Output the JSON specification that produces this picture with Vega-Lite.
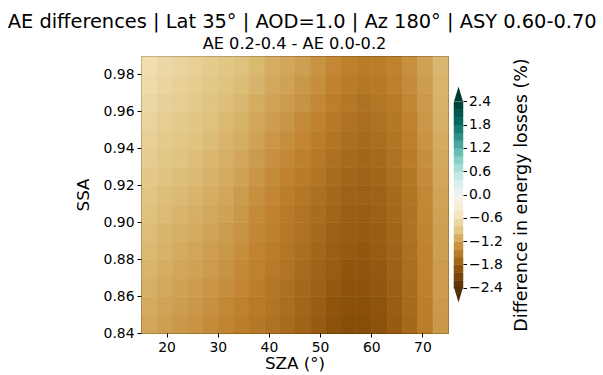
{
  "$schema": "https://vega.github.io/schema/vega-lite/v6.json",
  "background": "white",
  "padding": {"left": 7, "top": 11, "right": 5, "bottom": 5},
  "title": {"text": "AE differences | Lat 35° | AOD=1.0 | Az 180° | ASY 0.60-0.70", "font": "DejaVu Sans", "fontSize": 19.4, "fontWeight": "normal", "color": "#000", "anchor": "middle", "frame": "bounds", "offset": 3},
  "datasets": {
    "field": [
      {"ssa":0.84,"sza":15,"v":-1.17},{"ssa":0.84,"sza":18,"v":-1.22},{"ssa":0.84,"sza":21,"v":-1.27},{"ssa":0.84,"sza":24,"v":-1.31},{"ssa":0.84,"sza":27,"v":-1.36},{"ssa":0.84,"sza":30,"v":-1.41},{"ssa":0.84,"sza":33,"v":-1.47},{"ssa":0.84,"sza":36,"v":-1.53},{"ssa":0.84,"sza":39,"v":-1.59},{"ssa":0.84,"sza":42,"v":-1.65},{"ssa":0.84,"sza":45,"v":-1.73},{"ssa":0.84,"sza":48,"v":-1.82},{"ssa":0.84,"sza":51,"v":-1.91},{"ssa":0.84,"sza":54,"v":-1.96},{"ssa":0.84,"sza":57,"v":-1.97},{"ssa":0.84,"sza":60,"v":-1.91},{"ssa":0.84,"sza":63,"v":-1.82},{"ssa":0.84,"sza":66,"v":-1.68},{"ssa":0.84,"sza":69,"v":-1.48},{"ssa":0.84,"sza":72,"v":-1.27},
      {"ssa":0.85,"sza":15,"v":-1.13},{"ssa":0.85,"sza":18,"v":-1.19},{"ssa":0.85,"sza":21,"v":-1.23},{"ssa":0.85,"sza":24,"v":-1.27},{"ssa":0.85,"sza":27,"v":-1.32},{"ssa":0.85,"sza":30,"v":-1.38},{"ssa":0.85,"sza":33,"v":-1.44},{"ssa":0.85,"sza":36,"v":-1.50},{"ssa":0.85,"sza":39,"v":-1.56},{"ssa":0.85,"sza":42,"v":-1.62},{"ssa":0.85,"sza":45,"v":-1.70},{"ssa":0.85,"sza":48,"v":-1.79},{"ssa":0.85,"sza":51,"v":-1.88},{"ssa":0.85,"sza":54,"v":-1.93},{"ssa":0.85,"sza":57,"v":-1.94},{"ssa":0.85,"sza":60,"v":-1.89},{"ssa":0.85,"sza":63,"v":-1.80},{"ssa":0.85,"sza":66,"v":-1.66},{"ssa":0.85,"sza":69,"v":-1.47},{"ssa":0.85,"sza":72,"v":-1.26},
      {"ssa":0.86,"sza":15,"v":-1.10},{"ssa":0.86,"sza":18,"v":-1.15},{"ssa":0.86,"sza":21,"v":-1.20},{"ssa":0.86,"sza":24,"v":-1.24},{"ssa":0.86,"sza":27,"v":-1.29},{"ssa":0.86,"sza":30,"v":-1.34},{"ssa":0.86,"sza":33,"v":-1.40},{"ssa":0.86,"sza":36,"v":-1.47},{"ssa":0.86,"sza":39,"v":-1.54},{"ssa":0.86,"sza":42,"v":-1.60},{"ssa":0.86,"sza":45,"v":-1.68},{"ssa":0.86,"sza":48,"v":-1.76},{"ssa":0.86,"sza":51,"v":-1.84},{"ssa":0.86,"sza":54,"v":-1.90},{"ssa":0.86,"sza":57,"v":-1.91},{"ssa":0.86,"sza":60,"v":-1.86},{"ssa":0.86,"sza":63,"v":-1.77},{"ssa":0.86,"sza":66,"v":-1.65},{"ssa":0.86,"sza":69,"v":-1.45},{"ssa":0.86,"sza":72,"v":-1.25},
      {"ssa":0.87,"sza":15,"v":-1.06},{"ssa":0.87,"sza":18,"v":-1.12},{"ssa":0.87,"sza":21,"v":-1.16},{"ssa":0.87,"sza":24,"v":-1.20},{"ssa":0.87,"sza":27,"v":-1.25},{"ssa":0.87,"sza":30,"v":-1.31},{"ssa":0.87,"sza":33,"v":-1.37},{"ssa":0.87,"sza":36,"v":-1.44},{"ssa":0.87,"sza":39,"v":-1.51},{"ssa":0.87,"sza":42,"v":-1.57},{"ssa":0.87,"sza":45,"v":-1.65},{"ssa":0.87,"sza":48,"v":-1.73},{"ssa":0.87,"sza":51,"v":-1.81},{"ssa":0.87,"sza":54,"v":-1.87},{"ssa":0.87,"sza":57,"v":-1.88},{"ssa":0.87,"sza":60,"v":-1.84},{"ssa":0.87,"sza":63,"v":-1.75},{"ssa":0.87,"sza":66,"v":-1.63},{"ssa":0.87,"sza":69,"v":-1.44},{"ssa":0.87,"sza":72,"v":-1.24},
      {"ssa":0.88,"sza":15,"v":-1.03},{"ssa":0.88,"sza":18,"v":-1.08},{"ssa":0.88,"sza":21,"v":-1.13},{"ssa":0.88,"sza":24,"v":-1.17},{"ssa":0.88,"sza":27,"v":-1.22},{"ssa":0.88,"sza":30,"v":-1.27},{"ssa":0.88,"sza":33,"v":-1.34},{"ssa":0.88,"sza":36,"v":-1.42},{"ssa":0.88,"sza":39,"v":-1.48},{"ssa":0.88,"sza":42,"v":-1.55},{"ssa":0.88,"sza":45,"v":-1.62},{"ssa":0.88,"sza":48,"v":-1.70},{"ssa":0.88,"sza":51,"v":-1.78},{"ssa":0.88,"sza":54,"v":-1.83},{"ssa":0.88,"sza":57,"v":-1.85},{"ssa":0.88,"sza":60,"v":-1.81},{"ssa":0.88,"sza":63,"v":-1.73},{"ssa":0.88,"sza":66,"v":-1.61},{"ssa":0.88,"sza":69,"v":-1.43},{"ssa":0.88,"sza":72,"v":-1.22},
      {"ssa":0.89,"sza":15,"v":-0.99},{"ssa":0.89,"sza":18,"v":-1.05},{"ssa":0.89,"sza":21,"v":-1.09},{"ssa":0.89,"sza":24,"v":-1.13},{"ssa":0.89,"sza":27,"v":-1.18},{"ssa":0.89,"sza":30,"v":-1.24},{"ssa":0.89,"sza":33,"v":-1.31},{"ssa":0.89,"sza":36,"v":-1.39},{"ssa":0.89,"sza":39,"v":-1.45},{"ssa":0.89,"sza":42,"v":-1.52},{"ssa":0.89,"sza":45,"v":-1.59},{"ssa":0.89,"sza":48,"v":-1.67},{"ssa":0.89,"sza":51,"v":-1.75},{"ssa":0.89,"sza":54,"v":-1.80},{"ssa":0.89,"sza":57,"v":-1.82},{"ssa":0.89,"sza":60,"v":-1.79},{"ssa":0.89,"sza":63,"v":-1.71},{"ssa":0.89,"sza":66,"v":-1.59},{"ssa":0.89,"sza":69,"v":-1.42},{"ssa":0.89,"sza":72,"v":-1.21},
      {"ssa":0.90,"sza":15,"v":-0.96},{"ssa":0.90,"sza":18,"v":-1.01},{"ssa":0.90,"sza":21,"v":-1.06},{"ssa":0.90,"sza":24,"v":-1.10},{"ssa":0.90,"sza":27,"v":-1.15},{"ssa":0.90,"sza":30,"v":-1.20},{"ssa":0.90,"sza":33,"v":-1.27},{"ssa":0.90,"sza":36,"v":-1.36},{"ssa":0.90,"sza":39,"v":-1.43},{"ssa":0.90,"sza":42,"v":-1.50},{"ssa":0.90,"sza":45,"v":-1.57},{"ssa":0.90,"sza":48,"v":-1.64},{"ssa":0.90,"sza":51,"v":-1.71},{"ssa":0.90,"sza":54,"v":-1.77},{"ssa":0.90,"sza":57,"v":-1.79},{"ssa":0.90,"sza":60,"v":-1.76},{"ssa":0.90,"sza":63,"v":-1.68},{"ssa":0.90,"sza":66,"v":-1.58},{"ssa":0.90,"sza":69,"v":-1.40},{"ssa":0.90,"sza":72,"v":-1.20},
      {"ssa":0.91,"sza":15,"v":-0.92},{"ssa":0.91,"sza":18,"v":-0.98},{"ssa":0.91,"sza":21,"v":-1.02},{"ssa":0.91,"sza":24,"v":-1.06},{"ssa":0.91,"sza":27,"v":-1.11},{"ssa":0.91,"sza":30,"v":-1.17},{"ssa":0.91,"sza":33,"v":-1.24},{"ssa":0.91,"sza":36,"v":-1.33},{"ssa":0.91,"sza":39,"v":-1.40},{"ssa":0.91,"sza":42,"v":-1.47},{"ssa":0.91,"sza":45,"v":-1.54},{"ssa":0.91,"sza":48,"v":-1.61},{"ssa":0.91,"sza":51,"v":-1.68},{"ssa":0.91,"sza":54,"v":-1.74},{"ssa":0.91,"sza":57,"v":-1.76},{"ssa":0.91,"sza":60,"v":-1.74},{"ssa":0.91,"sza":63,"v":-1.66},{"ssa":0.91,"sza":66,"v":-1.56},{"ssa":0.91,"sza":69,"v":-1.39},{"ssa":0.91,"sza":72,"v":-1.19},
      {"ssa":0.92,"sza":15,"v":-0.88},{"ssa":0.92,"sza":18,"v":-0.94},{"ssa":0.92,"sza":21,"v":-0.98},{"ssa":0.92,"sza":24,"v":-1.02},{"ssa":0.92,"sza":27,"v":-1.07},{"ssa":0.92,"sza":30,"v":-1.13},{"ssa":0.92,"sza":33,"v":-1.20},{"ssa":0.92,"sza":36,"v":-1.29},{"ssa":0.92,"sza":39,"v":-1.36},{"ssa":0.92,"sza":42,"v":-1.43},{"ssa":0.92,"sza":45,"v":-1.49},{"ssa":0.92,"sza":48,"v":-1.57},{"ssa":0.92,"sza":51,"v":-1.64},{"ssa":0.92,"sza":54,"v":-1.70},{"ssa":0.92,"sza":57,"v":-1.73},{"ssa":0.92,"sza":60,"v":-1.70},{"ssa":0.92,"sza":63,"v":-1.63},{"ssa":0.92,"sza":66,"v":-1.53},{"ssa":0.92,"sza":69,"v":-1.36},{"ssa":0.92,"sza":72,"v":-1.17},
      {"ssa":0.93,"sza":15,"v":-0.83},{"ssa":0.93,"sza":18,"v":-0.89},{"ssa":0.93,"sza":21,"v":-0.94},{"ssa":0.93,"sza":24,"v":-0.98},{"ssa":0.93,"sza":27,"v":-1.04},{"ssa":0.93,"sza":30,"v":-1.10},{"ssa":0.93,"sza":33,"v":-1.16},{"ssa":0.93,"sza":36,"v":-1.24},{"ssa":0.93,"sza":39,"v":-1.32},{"ssa":0.93,"sza":42,"v":-1.38},{"ssa":0.93,"sza":45,"v":-1.45},{"ssa":0.93,"sza":48,"v":-1.52},{"ssa":0.93,"sza":51,"v":-1.60},{"ssa":0.93,"sza":54,"v":-1.66},{"ssa":0.93,"sza":57,"v":-1.70},{"ssa":0.93,"sza":60,"v":-1.67},{"ssa":0.93,"sza":63,"v":-1.59},{"ssa":0.93,"sza":66,"v":-1.49},{"ssa":0.93,"sza":69,"v":-1.34},{"ssa":0.93,"sza":72,"v":-1.15},
      {"ssa":0.94,"sza":15,"v":-0.79},{"ssa":0.94,"sza":18,"v":-0.85},{"ssa":0.94,"sza":21,"v":-0.90},{"ssa":0.94,"sza":24,"v":-0.94},{"ssa":0.94,"sza":27,"v":-1.00},{"ssa":0.94,"sza":30,"v":-1.06},{"ssa":0.94,"sza":33,"v":-1.12},{"ssa":0.94,"sza":36,"v":-1.20},{"ssa":0.94,"sza":39,"v":-1.28},{"ssa":0.94,"sza":42,"v":-1.34},{"ssa":0.94,"sza":45,"v":-1.40},{"ssa":0.94,"sza":48,"v":-1.48},{"ssa":0.94,"sza":51,"v":-1.56},{"ssa":0.94,"sza":54,"v":-1.62},{"ssa":0.94,"sza":57,"v":-1.66},{"ssa":0.94,"sza":60,"v":-1.63},{"ssa":0.94,"sza":63,"v":-1.56},{"ssa":0.94,"sza":66,"v":-1.46},{"ssa":0.94,"sza":69,"v":-1.31},{"ssa":0.94,"sza":72,"v":-1.13},
      {"ssa":0.95,"sza":15,"v":-0.74},{"ssa":0.95,"sza":18,"v":-0.81},{"ssa":0.95,"sza":21,"v":-0.86},{"ssa":0.95,"sza":24,"v":-0.91},{"ssa":0.95,"sza":27,"v":-0.96},{"ssa":0.95,"sza":30,"v":-1.02},{"ssa":0.95,"sza":33,"v":-1.08},{"ssa":0.95,"sza":36,"v":-1.16},{"ssa":0.95,"sza":39,"v":-1.23},{"ssa":0.95,"sza":42,"v":-1.29},{"ssa":0.95,"sza":45,"v":-1.36},{"ssa":0.95,"sza":48,"v":-1.43},{"ssa":0.95,"sza":51,"v":-1.51},{"ssa":0.95,"sza":54,"v":-1.58},{"ssa":0.95,"sza":57,"v":-1.63},{"ssa":0.95,"sza":60,"v":-1.59},{"ssa":0.95,"sza":63,"v":-1.53},{"ssa":0.95,"sza":66,"v":-1.43},{"ssa":0.95,"sza":69,"v":-1.28},{"ssa":0.95,"sza":72,"v":-1.10},
      {"ssa":0.96,"sza":15,"v":-0.70},{"ssa":0.96,"sza":18,"v":-0.77},{"ssa":0.96,"sza":21,"v":-0.82},{"ssa":0.96,"sza":24,"v":-0.87},{"ssa":0.96,"sza":27,"v":-0.93},{"ssa":0.96,"sza":30,"v":-0.98},{"ssa":0.96,"sza":33,"v":-1.04},{"ssa":0.96,"sza":36,"v":-1.12},{"ssa":0.96,"sza":39,"v":-1.19},{"ssa":0.96,"sza":42,"v":-1.25},{"ssa":0.96,"sza":45,"v":-1.31},{"ssa":0.96,"sza":48,"v":-1.39},{"ssa":0.96,"sza":51,"v":-1.47},{"ssa":0.96,"sza":54,"v":-1.53},{"ssa":0.96,"sza":57,"v":-1.59},{"ssa":0.96,"sza":60,"v":-1.55},{"ssa":0.96,"sza":63,"v":-1.50},{"ssa":0.96,"sza":66,"v":-1.40},{"ssa":0.96,"sza":69,"v":-1.26},{"ssa":0.96,"sza":72,"v":-1.08},
      {"ssa":0.97,"sza":15,"v":-0.65},{"ssa":0.97,"sza":18,"v":-0.72},{"ssa":0.97,"sza":21,"v":-0.78},{"ssa":0.97,"sza":24,"v":-0.83},{"ssa":0.97,"sza":27,"v":-0.89},{"ssa":0.97,"sza":30,"v":-0.95},{"ssa":0.97,"sza":33,"v":-1.00},{"ssa":0.97,"sza":36,"v":-1.07},{"ssa":0.97,"sza":39,"v":-1.15},{"ssa":0.97,"sza":42,"v":-1.20},{"ssa":0.97,"sza":45,"v":-1.27},{"ssa":0.97,"sza":48,"v":-1.34},{"ssa":0.97,"sza":51,"v":-1.43},{"ssa":0.97,"sza":54,"v":-1.49},{"ssa":0.97,"sza":57,"v":-1.54},{"ssa":0.97,"sza":60,"v":-1.52},{"ssa":0.97,"sza":63,"v":-1.46},{"ssa":0.97,"sza":66,"v":-1.36},{"ssa":0.97,"sza":69,"v":-1.23},{"ssa":0.97,"sza":72,"v":-1.06},
      {"ssa":0.98,"sza":15,"v":-0.61},{"ssa":0.98,"sza":18,"v":-0.68},{"ssa":0.98,"sza":21,"v":-0.74},{"ssa":0.98,"sza":24,"v":-0.79},{"ssa":0.98,"sza":27,"v":-0.85},{"ssa":0.98,"sza":30,"v":-0.91},{"ssa":0.98,"sza":33,"v":-0.96},{"ssa":0.98,"sza":36,"v":-1.03},{"ssa":0.98,"sza":39,"v":-1.11},{"ssa":0.98,"sza":42,"v":-1.16},{"ssa":0.98,"sza":45,"v":-1.22},{"ssa":0.98,"sza":48,"v":-1.30},{"ssa":0.98,"sza":51,"v":-1.39},{"ssa":0.98,"sza":54,"v":-1.45},{"ssa":0.98,"sza":57,"v":-1.49},{"ssa":0.98,"sza":60,"v":-1.48},{"ssa":0.98,"sza":63,"v":-1.43},{"ssa":0.98,"sza":66,"v":-1.33},{"ssa":0.98,"sza":69,"v":-1.20},{"ssa":0.98,"sza":72,"v":-1.04}
    ],
    "levels": [
      {"lo":-2.4,"c":-2.3},{"lo":-2.2,"c":-2.1},{"lo":-2.0,"c":-1.9},{"lo":-1.8,"c":-1.7},{"lo":-1.6,"c":-1.5},{"lo":-1.4,"c":-1.3},
      {"lo":-1.2,"c":-1.1},{"lo":-1.0,"c":-0.9},{"lo":-0.8,"c":-0.7},{"lo":-0.6,"c":-0.5},{"lo":-0.4,"c":-0.3},{"lo":-0.2,"c":-0.1},
      {"lo":0.0,"c":0.1},{"lo":0.2,"c":0.3},{"lo":0.4,"c":0.5},{"lo":0.6,"c":0.7},{"lo":0.8,"c":0.9},{"lo":1.0,"c":1.1},
      {"lo":1.2,"c":1.3},{"lo":1.4,"c":1.5},{"lo":1.6,"c":1.7},{"lo":1.8,"c":1.9},{"lo":2.0,"c":2.1},{"lo":2.2,"c":2.3}
    ],
    "extend": [
      {"tip":"over","val":2.59,"c":2.4},
      {"tip":"under","val":-2.59,"c":-2.4}
    ]
  },
  "hconcat": [
    {
      "title": {"text": "AE 0.2-0.4 - AE 0.0-0.2", "font": "DejaVu Sans", "fontSize": 16.2, "fontWeight": "normal", "color": "#000", "anchor": "middle", "frame": "group", "offset": 4},
      "width": 307,
      "height": 277,
      "data": {"name": "field"},
      "mark": {"type": "rect", "strokeWidth": 0.6},
      "encoding": {
        "x": {"field": "sza", "type": "quantitative", "bin": {"binned": true, "step": 3},
              "scale": {"domain": [15, 75], "nice": false, "zero": false},
              "axis": {"title": "SZA (°)", "values": [20, 30, 40, 50, 60, 70], "format": "d"}},
        "y": {"field": "ssa", "type": "quantitative", "bin": {"binned": true, "step": 0.01},
              "scale": {"domain": [0.84, 0.99], "nice": false, "zero": false},
              "axis": {"title": "SSA", "values": [0.84, 0.86, 0.88, 0.9, 0.92, 0.94, 0.96, 0.98], "format": ".2f"}},
        "color": {"field": "v", "type": "quantitative", "legend": null,
                  "scale": {"domain": [-2.4, -1.92, -1.44, -0.96, -0.48, 0, 0.48, 0.96, 1.44, 1.92, 2.4],
                            "range": ["#543005", "#8c510a", "#bf812d", "#dfc27d", "#f6e8c3", "#f5f5f5", "#c7eae5", "#80cdc1", "#35978f", "#01665e", "#003c30"],
                            "interpolate": "rgb"}},
        "stroke": {"field": "v", "type": "quantitative", "legend": null,
                   "scale": {"domain": [-2.4, -1.92, -1.44, -0.96, -0.48, 0, 0.48, 0.96, 1.44, 1.92, 2.4],
                             "range": ["#543005", "#8c510a", "#bf812d", "#dfc27d", "#f6e8c3", "#f5f5f5", "#c7eae5", "#80cdc1", "#35978f", "#01665e", "#003c30"],
                             "interpolate": "rgb"}}
      }
    },
    {
      "title": {"text": " ", "font": "DejaVu Sans", "fontSize": 16.2, "offset": 4},
      "width": 9,
      "height": 277,
      "view": {"stroke": null},
      "layer": [
        {
          "data": {"name": "levels"},
          "mark": {"type": "rect", "strokeWidth": 0.5},
          "encoding": {
            "y": {"field": "lo", "type": "quantitative", "bin": {"binned": true, "step": 0.2},
                  "scale": {"domain": [-3.57, 3.57], "nice": false, "zero": false},
                  "axis": {"orient": "right", "title": "Difference in energy losses (%)", "titleAngle": 270, "titleBaseline": "top", "titlePadding": 10,
                           "titleFontSize": 17.5,
                           "values": [-2.4, -1.8, -1.2, -0.6, 0, 0.6, 1.2, 1.8, 2.4],
                           "labelExpr": "replace(format(datum.value, '.1f'), '-', '\u2212')",
                           "tickSize": 3.5, "labelPadding": 2}},
            "color": {"field": "c", "type": "quantitative", "legend": null,
                      "scale": {"domain": [-2.4, -1.92, -1.44, -0.96, -0.48, 0, 0.48, 0.96, 1.44, 1.92, 2.4],
                                "range": ["#543005", "#8c510a", "#bf812d", "#dfc27d", "#f6e8c3", "#f5f5f5", "#c7eae5", "#80cdc1", "#35978f", "#01665e", "#003c30"],
                                "interpolate": "rgb"}},
            "stroke": {"field": "c", "type": "quantitative", "legend": null,
                       "scale": {"domain": [-2.4, -1.92, -1.44, -0.96, -0.48, 0, 0.48, 0.96, 1.44, 1.92, 2.4],
                                 "range": ["#543005", "#8c510a", "#bf812d", "#dfc27d", "#f6e8c3", "#f5f5f5", "#c7eae5", "#80cdc1", "#35978f", "#01665e", "#003c30"],
                                 "interpolate": "rgb"}}
          }
        },
        {
          "data": {"name": "extend"},
          "mark": {"type": "point", "filled": true, "size": 225, "opacity": 1, "strokeWidth": 0},
          "encoding": {
            "y": {"field": "val", "type": "quantitative"},
            "shape": {"field": "tip", "type": "nominal", "legend": null,
                      "scale": {"domain": ["over", "under"], "range": ["M-0.6,1L0,-1L0.6,1Z", "M-0.6,-1L0,1L0.6,-1Z"]}},
            "color": {"field": "c", "type": "quantitative", "legend": null}
          }
        }
      ]
    }
  ],
  "spacing": 3,
  "config": {
    "font": "DejaVu Sans",
    "view": {"stroke": "#000", "strokeWidth": 1},
    "axis": {
      "domain": false, "grid": false,
      "ticks": true, "tickColor": "#000", "tickSize": 4, "tickWidth": 1,
      "labelFont": "DejaVu Sans", "labelFontSize": 13.9, "labelColor": "#000", "labelPadding": 3,
      "titleFont": "DejaVu Sans", "titleFontSize": 16.7, "titleFontWeight": "normal", "titleColor": "#000"
    },
    "axisY": {"titlePadding": 11},
    "axisX": {"titlePadding": 2}
  }
}
